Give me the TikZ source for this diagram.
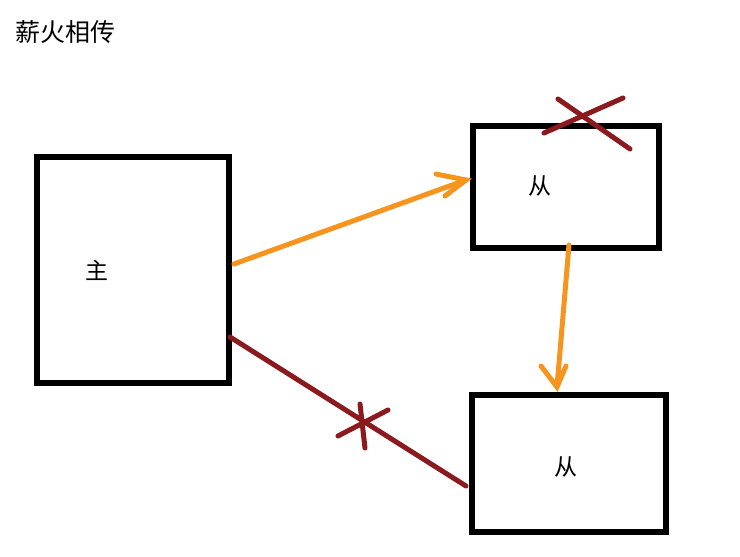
\documentclass[tikz,border=0pt]{standalone}
\usepackage{fontspec}
\newfontfamily\cjk{Noto Sans CJK SC}
\definecolor{org}{HTML}{F7941D}
\definecolor{drd}{HTML}{8B1A1E}
\begin{document}
\begin{tikzpicture}[x=1pt,y=-1pt,
  box/.style={draw=black,line width=6pt,inner sep=0pt},
  lbl/.style={font=\cjk\fontsize{23}{25}\selectfont},
  oarr/.style={draw=org,line width=5pt,line cap=round},
  rline/.style={draw=drd,line width=5pt,line cap=round}]
\useasboundingbox (0,0) rectangle (740,557);
\node[font=\cjk\fontsize{25}{27}\selectfont,anchor=west] (t) at (12,32) {薪火相传};
\draw[box] (37,157) rectangle (229,383);
\draw[box] (473,126) rectangle (659,248);
\draw[box] (472,395) rectangle (666,532);
\node[lbl] (m) at (97,270) {主};
\node[lbl] (s1) at (540,186) {从};
\node[lbl] (s2) at (566,467) {从};
\coordinate (a1) at (234,264); \coordinate (b1) at (466,180);
\draw[oarr] (a1) -- (b1);
\draw[oarr] (436,174) -- (b1) -- (445,196);
\coordinate (a2) at (569,245); \coordinate (b2) at (557,387);
\draw[oarr] (a2) -- (b2);
\draw[oarr] (541,366) -- (b2) -- (566,366);
\coordinate (a3) at (230,337); \coordinate (b3) at (466,486);
\draw[rline] (a3) -- (b3);
\draw[rline] (338,436) -- (388,410);
\draw[rline] (360,404) -- (365,448);
\draw[rline] (544,133) -- (623,98);
\draw[rline] (558,99) -- (630,149);
\end{tikzpicture}
\end{document}
